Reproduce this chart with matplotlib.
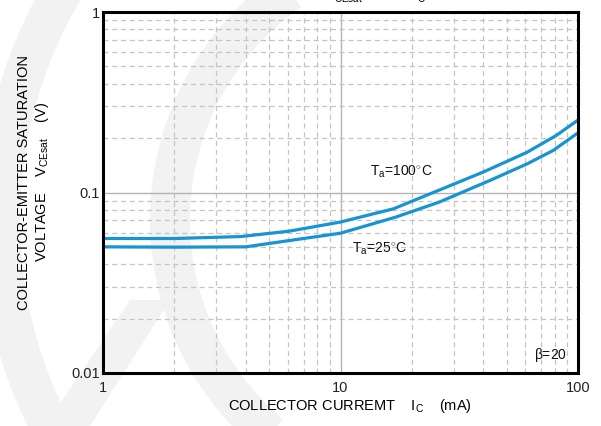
import numpy as np
import matplotlib
matplotlib.use("Agg")
import matplotlib.pyplot as plt
from matplotlib.patches import Wedge, Polygon
from matplotlib.ticker import LogLocator, NullFormatter, FixedFormatter, FixedLocator

plt.rcParams['font.family'] = ['Liberation Sans', 'DejaVu Sans']
plt.rcParams['mathtext.fontset'] = 'custom'
plt.rcParams['mathtext.rm'] = 'Liberation Sans'
plt.rcParams['mathtext.it'] = 'Liberation Sans'

# collector current (mA) and saturation voltage (V), beta = 20
ic_100 = [1, 2, 3.8, 6.1, 10, 16.7, 24.6, 40, 61, 81, 100]
vce_100 = [0.0556, 0.0556, 0.0570, 0.0611, 0.0686, 0.0812, 0.100, 0.130, 0.167, 0.207, 0.252]
ic_25 = [1, 2, 4, 6.1, 10, 17, 26, 42.5, 61, 78.6, 100]
vce_25 = [0.0500, 0.0498, 0.0500, 0.0542, 0.0595, 0.0729, 0.0884, 0.1165, 0.144, 0.171, 0.214]

x_ticks = [1, 10, 100]
x_labels = ['1', '10', '100']
y_ticks = [0.01, 0.1, 1]
y_labels = ['0.01', '0.1', '1']

W, H = 601, 426
fig = plt.figure(figsize=(W / 100, H / 100), dpi=100)

# faint logo watermark behind the chart
bg = fig.add_axes([0, 0, 1, 1], zorder=-1)
bg.set_xlim(0, W)
bg.set_ylim(H, 0)
bg.axis('off')
wm = '#f2f2f2'
bg.add_patch(Wedge((450, 220), 470, 100, 250, width=40, color=wm, lw=0))
bg.add_patch(Wedge((450, 220), 300, 130, 235, width=40, color=wm, lw=0))
bg.add_patch(Polygon([(130, 300), (170, 300), (90, 426), (45, 426)], closed=True, color=wm, lw=0))

ax = fig.add_axes([103 / W, 1 - 373 / H, 475 / W, 361 / H])
ax.set_facecolor('none')
ax.set_xscale('log')
ax.set_yscale('log')
ax.set_xlim(1, 100)
ax.set_ylim(0.01, 1)

ax.grid(which='major', color='#b4b4b4', lw=1.0, ls='-')
ax.grid(which='minor', color='#c4c4c4', lw=0.9, ls=(0, (4, 3)))
ax.xaxis.set_minor_locator(LogLocator(base=10, subs=np.arange(2, 10)))
ax.yaxis.set_minor_locator(LogLocator(base=10, subs=np.arange(2, 10)))
ax.xaxis.set_minor_formatter(NullFormatter())
ax.yaxis.set_minor_formatter(NullFormatter())
ax.xaxis.set_major_locator(FixedLocator(x_ticks))
ax.xaxis.set_major_formatter(FixedFormatter(x_labels))
ax.yaxis.set_major_locator(FixedLocator(y_ticks))
ax.yaxis.set_major_formatter(FixedFormatter(y_labels))
ax.tick_params(which='both', length=0, labelsize=10.5, colors='#222222')
ax.tick_params(axis='x', pad=6)
ax.tick_params(axis='y', pad=2)
for s in ax.spines.values():
    s.set_linewidth(2.2)
    s.set_color('black')

blue = '#1894d2'
ax.plot(ic_100, vce_100, color=blue, lw=2.3, solid_capstyle='butt')
ax.plot(ic_25, vce_25, color=blue, lw=2.3, solid_capstyle='butt')

ax.text(13.3, 0.124, r'T$_{\mathregular{a}}$=100$^{\circ}$C', fontsize=10, color='#111111')
ax.text(11.2, 0.0467, r'T$_{\mathregular{a}}$=25$^{\circ}$C', fontsize=10, color='#111111')
ax.text(90, 0.0120, r'$\beta$=20', fontsize=10, ha='right', color='#111111')

fig.text(350 / W, 1 - 406 / H, r'COLLECTOR CURREMT    I$_{\mathregular{C}}$    (mA)',
         fontsize=10.5, ha='center', va='center')
fig.text(24 / W, 1 - 182 / H, 'COLLECTOR-EMITTER SATURATION',
         fontsize=10.5, rotation=90, ha='center', va='center')
fig.text(42 / W, 1 - 182 / H, r'VOLTAGE    V$_{\mathregular{CEsat}}$    (V)',
         fontsize=10.5, rotation=90, ha='center', va='center')

# title, mostly clipped by the top edge of the page
fig.text(325 / W, 1 - 1 / H, r'V$_{\mathregular{CEsat}}$     —     I$_{\mathregular{C}}$',
         fontsize=10, va='baseline', ha='left')

fig.savefig('out.png', dpi=100)
